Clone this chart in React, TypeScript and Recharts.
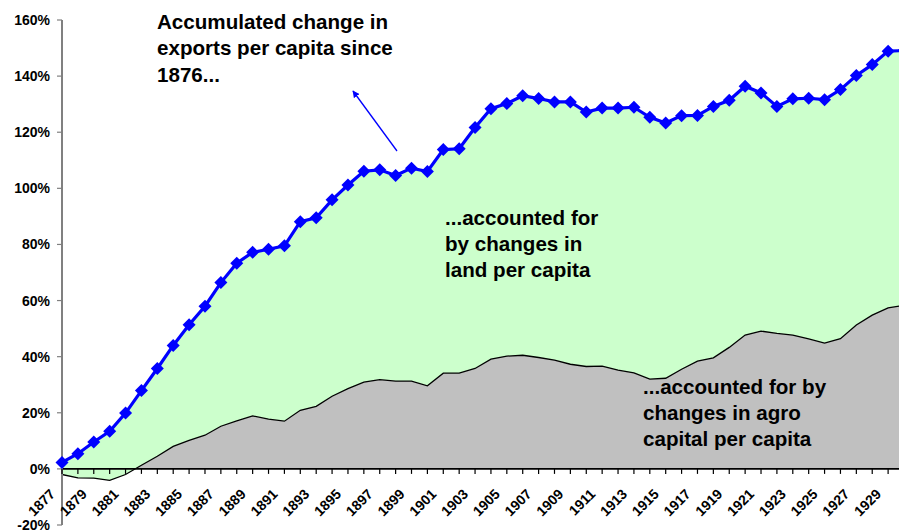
import React from 'react';
import { ComposedChart, Area, Line, XAxis, YAxis, ReferenceLine } from 'recharts';

const years = [
  '1877', '1878', '1879', '1880', '1881', '1882', '1883', '1884', '1885', '1886',
  '1887', '1888', '1889', '1890', '1891', '1892', '1893', '1894', '1895', '1896',
  '1897', '1898', '1899', '1900', '1901', '1902', '1903', '1904', '1905', '1906',
  '1907', '1908', '1909', '1910', '1911', '1912', '1913', '1914', '1915', '1916',
  '1917', '1918', '1919', '1920', '1921', '1922', '1923', '1924', '1925', '1926',
  '1927', '1928', '1929', '1930',
];

// Accumulated change in exports per capita since 1876 (%)
const exportsPct = [
  2.3, 5.4, 9.6, 13.4, 19.9, 27.9, 35.8, 44.0, 51.4, 58.0,
  66.4, 73.3, 77.2, 78.3, 79.5, 88.1, 89.5, 95.9, 101.2, 106.1,
  106.6, 104.6, 107.2, 106.0, 113.8, 114.1, 121.7, 128.4, 130.2, 133.0,
  132.0, 130.8, 130.8, 127.2, 128.6, 128.6, 128.9, 125.3, 123.3, 125.9,
  126.0, 129.2, 131.4, 136.4, 134.0, 129.2, 131.9, 132.1, 131.6, 135.2,
  140.2, 144.1, 148.9, 149.1,
];

// Part accounted for by changes in agro capital per capita (%)
const agroPct = [
  -2.0, -3.2, -3.3, -4.1, -2.0, 1.3, 4.5, 8.0, 10.2, 12.0,
  15.2, 17.1, 18.9, 17.7, 17.0, 20.9, 22.3, 25.9, 28.6, 30.9,
  31.8, 31.3, 31.3, 29.6, 34.1, 34.1, 35.8, 39.1, 40.2, 40.5,
  39.7, 38.8, 37.3, 36.5, 36.6, 35.2, 34.2, 32.0, 32.3, 35.5,
  38.4, 39.6, 43.3, 47.7, 49.1, 48.3, 47.7, 46.3, 44.8, 46.4,
  51.3, 54.8, 57.4, 58.3,
];

const yTicks = [-20, 0, 20, 40, 60, 80, 100, 120, 140, 160];
const Y_MIN = -20;
const Y_MAX = 160;

const titleLines = ['Accumulated change in', 'exports per capita since', '1876...'];
const landLines = ['...accounted for', 'by changes in', 'land per capita'];
const agroLines = ['...accounted for by', 'changes in agro', 'capital per capita'];

const data = years.map((year, i) => ({
  year,
  exports: exportsPct[i],
  agro: agroPct[i],
  band: [agroPct[i], exportsPct[i]],
}));

// layout
const VIEW_W = 899;
const VIEW_H = 532;
const CHART_W = 910;
const CHART_H = 532;
const M_TOP = 20;
const M_RIGHT = 6;
const X_AXIS_H = 2;
const M_BOTTOM = 7 - X_AXIS_H;
const Y_AXIS_W = 62;
const PLOT_H = CHART_H - M_TOP - M_BOTTOM - X_AXIS_H;
const Y_ZERO = M_TOP + (PLOT_H * (Y_MAX - 0)) / (Y_MAX - Y_MIN);

const FONT = '"Liberation Sans", Arial, Helvetica, sans-serif';
const BLUE = '#0000FF';

const Diamond = (props: any) => {
  const { cx, cy, index } = props;
  if (cx == null || cy == null) return <g key={`dm-${index}`} />;
  const r = 6.5;
  return (
    <path
      key={`dm-${index}`}
      d={`M${cx},${cy - r} L${cx + r},${cy} L${cx},${cy + r} L${cx - r},${cy} Z`}
      fill={BLUE}
      stroke="none"
    />
  );
};

const renderXTick = (props: any) => {
  const { x, index, payload } = props;
  return (
    <g key={`xt-${index}`}>
      <line x1={x} y1={Y_ZERO} x2={x} y2={Y_ZERO + 5} stroke="#000" strokeWidth={1.2} />
      {index % 2 === 0 ? (
        <text
          x={0}
          y={0}
          transform={`translate(${x - 6},${Y_ZERO + 26}) rotate(-45)`}
          textAnchor="end"
          fontFamily={FONT}
          fontWeight="bold"
          fontSize={14}
          fill="#000"
        >
          {payload.value}
        </text>
      ) : null}
    </g>
  );
};

const textStyle = {
  fontFamily: FONT,
  fontWeight: 'bold' as const,
  fontSize: 20.6,
  fill: '#000',
};

export default function App() {
  return (
    <div
      style={{
        position: 'fixed',
        left: 0,
        top: 0,
        width: VIEW_W,
        height: VIEW_H,
        overflow: 'hidden',
        background: '#fff',
      }}
    >
      <ComposedChart
        width={CHART_W}
        height={CHART_H}
        data={data}
        margin={{ top: M_TOP, right: M_RIGHT, bottom: M_BOTTOM, left: 0 }}
      >
        <XAxis
          dataKey="year"
          scale="point"
          interval={0}
          height={X_AXIS_H}
          axisLine={false}
          tickLine={false}
          tick={renderXTick}
        />
        <YAxis
          type="number"
          domain={[Y_MIN, Y_MAX]}
          ticks={yTicks}
          interval={0}
          width={Y_AXIS_W}
          tickFormatter={(v: number) => `${v}%`}
          axisLine={{ stroke: '#808080', strokeWidth: 2 }}
          tickLine={{ stroke: '#808080', strokeWidth: 1.2 }}
          tickSize={5}
          tickMargin={7}
          tick={{ fontFamily: FONT, fontWeight: 'bold', fontSize: 14, fill: '#000' }}
        />
        <Area
          type="linear"
          dataKey="agro"
          fill="#C0C0C0"
          fillOpacity={1}
          stroke="none"
          isAnimationActive={false}
        />
        <Area
          type="linear"
          dataKey="band"
          fill="#CCFFCC"
          fillOpacity={1}
          stroke="none"
          isAnimationActive={false}
        />
        <Line
          type="linear"
          dataKey="agro"
          stroke="#000"
          strokeWidth={1.3}
          dot={false}
          activeDot={false}
          isAnimationActive={false}
        />
        <ReferenceLine y={0} stroke="#000" strokeWidth={1.6} />
        <Line
          type="linear"
          dataKey="exports"
          stroke={BLUE}
          strokeWidth={3.2}
          dot={<Diamond />}
          activeDot={false}
          isAnimationActive={false}
        />
      </ComposedChart>
      <svg
        width={VIEW_W}
        height={VIEW_H}
        style={{ position: 'absolute', left: 0, top: 0, pointerEvents: 'none' }}
      >
        <defs>
          <marker
            id="arrowHead"
            viewBox="0 0 10 10"
            refX="9"
            refY="5"
            markerWidth="7"
            markerHeight="7"
            markerUnits="userSpaceOnUse"
            orient="auto"
          >
            <path d="M0,0 L10,5 L0,10 Z" fill={BLUE} />
          </marker>
        </defs>
        <line
          x1={397}
          y1={151}
          x2={353}
          y2={91}
          stroke={BLUE}
          strokeWidth={1.3}
          markerEnd="url(#arrowHead)"
        />
        {titleLines.map((t, i) => (
          <text key={`t${i}`} x={157} y={28.5 + i * 26.6} {...textStyle}>
            {t}
          </text>
        ))}
        {landLines.map((t, i) => (
          <text key={`l${i}`} x={445} y={225 + i * 26} {...textStyle}>
            {t}
          </text>
        ))}
        {agroLines.map((t, i) => (
          <text key={`a${i}`} x={643} y={394 + i * 26} {...textStyle}>
            {t}
          </text>
        ))}
      </svg>
    </div>
  );
}
